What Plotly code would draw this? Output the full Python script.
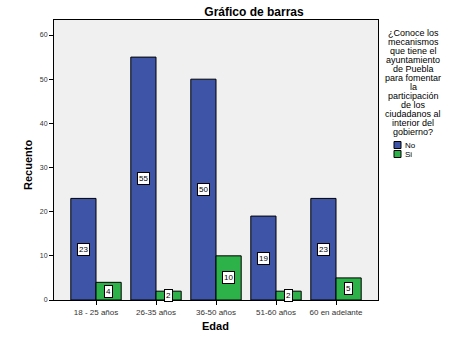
import plotly.graph_objects as go

categorias = ["18 - 25 años", "26-35 años", "36-50 años", "51-60 años", "60 en adelante"]
no_vals = [23, 55, 50, 19, 23]
si_vals = [4, 2, 10, 2, 5]
series_names = ["No", "Si"]
y_ticks = [0, 10, 20, 30, 40, 50, 60]
legend_title_lines = ["¿Conoce los", "mecanismos", "que tiene el", "ayuntamiento", "de Puebla",
                      "para fomentar", "la", "participación", "de los", "ciudadanos al",
                      "interior del", "gobierno?"]

blue = "#3E54A6"
green = "#2DB24A"
colors = [blue, green]

W, H = 453, 337
L, R, T, B = 54, 75, 20, 37
PW, PH = W - L - R, H - T - B


def px_x(px):
    return (px - L) / PW


def px_y(py):
    return (H - B - py) / PH


fig = go.Figure()
for name, vals, col in zip(series_names, [no_vals, si_vals], colors):
    fig.add_trace(go.Bar(
        x=categorias, y=vals, name=name, showlegend=False,
        marker=dict(color=col, line=dict(color="black", width=1)),
    ))

# value labels in white boxes at mid-height of each bar
offsets = [-0.21, 0.21]
for k, vals in enumerate([no_vals, si_vals]):
    for i, v in enumerate(vals):
        fig.add_annotation(
            x=i + offsets[k], y=v / 2, xref="x", yref="y",
            text=str(v), showarrow=False, xanchor="center", yanchor="middle",
            font=dict(size=8, color="black", family="Liberation Sans, Arial"),
            bgcolor="white", bordercolor="black", borderwidth=1, borderpad=1,
        )

# legend title (one annotation per line)
for j, line in enumerate(legend_title_lines):
    fig.add_annotation(
        x=px_x(413), y=px_y(33 + j * 9.0), xref="paper", yref="paper",
        text=line, showarrow=False, xanchor="center", yanchor="middle",
        font=dict(size=9, color="black", family="Liberation Sans, Arial"),
    )

# manual legend entries
for j, (name, col) in enumerate(zip(series_names, colors)):
    cy = 145 + j * 9
    fig.add_shape(type="rect", xref="paper", yref="paper",
                  x0=px_x(394), x1=px_x(401), y0=px_y(cy + 3.5), y1=px_y(cy - 3.5),
                  fillcolor=col, line=dict(color="black", width=1))
    fig.add_annotation(
        x=px_x(403), y=px_y(cy), xref="paper", yref="paper",
        text=name, showarrow=False, xanchor="left", yanchor="middle",
        font=dict(size=8, color="black", family="Liberation Sans, Arial"),
    )

# axis titles
fig.add_annotation(x=px_x(28), y=px_y(165), xref="paper", yref="paper",
                   text="<b>Recuento</b>", showarrow=False, textangle=-90,
                   xanchor="center", yanchor="middle",
                   font=dict(size=11, color="black", family="Liberation Sans, Arial"))
fig.add_annotation(x=px_x(215), y=px_y(326), xref="paper", yref="paper",
                   text="<b>Edad</b>", showarrow=False, xanchor="center", yanchor="middle",
                   font=dict(size=11, color="black", family="Liberation Sans, Arial"))

fig.update_layout(
    width=W, height=H,
    margin=dict(l=L, r=R, t=T, b=B),
    paper_bgcolor="white", plot_bgcolor="#F0F0F0",
    barmode="group", bargap=0.16, bargroupgap=0,
    font=dict(family="Liberation Sans, Arial", size=8, color="#333333"),
    title=dict(text="<b>Gráfico de barras</b>", x=254 / W, xanchor="center",
               y=1 - 12 / H, yanchor="middle",
               font=dict(size=12, color="black")),
    showlegend=False,
    xaxis=dict(range=[-0.7, 4.7], showline=True, linecolor="black", linewidth=1,
               mirror=True, ticks="outside", ticklen=4, tickcolor="black",
               automargin=False, tickfont=dict(size=8, color="#333333")),
    yaxis=dict(range=[0, 63.4], tickvals=y_ticks, showline=True, linecolor="black",
               linewidth=1, mirror=True, ticks="outside", ticklen=4, tickcolor="black",
               showgrid=False, zeroline=False, automargin=False,
               tickfont=dict(size=7, color="#333333")),
)

fig.write_html("out.html")
